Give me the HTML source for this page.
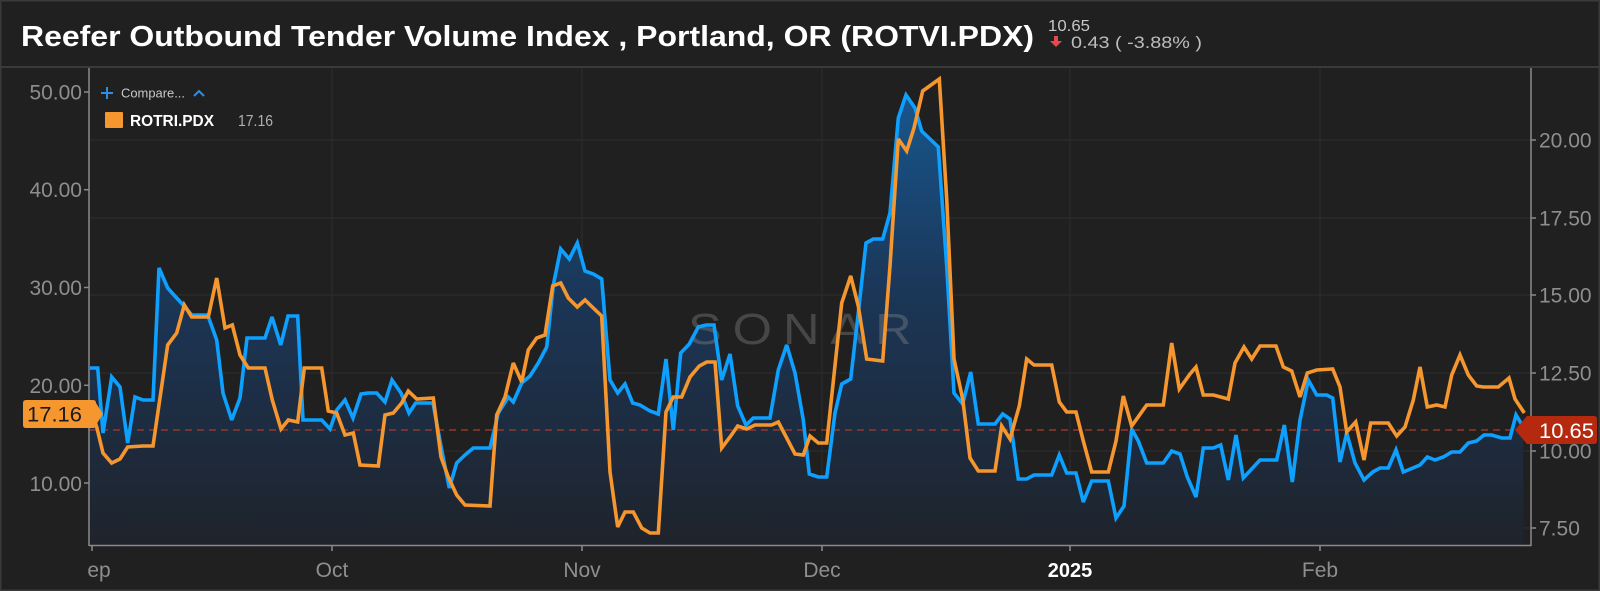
<!DOCTYPE html>
<html><head><meta charset="utf-8"><style>
html,body{margin:0;padding:0;background:#202020;}
svg{display:block;}
text{font-family:"Liberation Sans",sans-serif;}
</style></head><body>
<svg width="1600" height="591" viewBox="0 0 1600 591" xmlns="http://www.w3.org/2000/svg">
<defs>
<linearGradient id="ag" gradientUnits="userSpaceOnUse" x1="0" y1="90" x2="0" y2="545">
<stop offset="0" stop-color="#17578f"/>
<stop offset="0.45" stop-color="#1b3657"/>
<stop offset="1" stop-color="#1f232b"/>
</linearGradient>
<clipPath id="plot"><rect x="89" y="68" width="1442" height="477"/></clipPath>
<clipPath id="xl"><rect x="88" y="550" width="1500" height="40"/></clipPath>
</defs>
<rect x="0" y="0" width="1600" height="591" fill="#202020"/>
<!-- header -->
<text x="21" y="46" font-size="29" font-weight="bold" fill="#ffffff" textLength="1013" lengthAdjust="spacingAndGlyphs">Reefer Outbound Tender Volume Index , Portland, OR (ROTVI.PDX)</text>
<text x="1048" y="31" font-size="16" fill="#c8c8c8" textLength="42" lengthAdjust="spacingAndGlyphs">10.65</text>
<rect x="1054" y="36" width="4" height="6" fill="#e5484d"/>
<polygon points="1050,41 1062,41 1056,47" fill="#e5484d"/>
<text x="1071" y="48" font-size="17" fill="#bdbdbd" textLength="131" lengthAdjust="spacingAndGlyphs">0.43 ( -3.88% )</text>
<rect x="0" y="66" width="1600" height="2" fill="#3a3a3a"/>
<!-- grid -->
<g stroke="#2e2e2e" stroke-width="1">
<line x1="89" y1="140" x2="1531" y2="140"/>
<line x1="89" y1="218" x2="1531" y2="218"/>
<line x1="89" y1="295" x2="1531" y2="295"/>
<line x1="89" y1="373" x2="1531" y2="373"/>
<line x1="89" y1="451" x2="1531" y2="451"/>
<line x1="89" y1="528" x2="1531" y2="528"/>
<line x1="332" y1="68" x2="332" y2="545"/>
<line x1="582" y1="68" x2="582" y2="545"/>
<line x1="822" y1="68" x2="822" y2="545"/>
<line x1="1070" y1="68" x2="1070" y2="545"/>
<line x1="1320" y1="68" x2="1320" y2="545"/>
</g>
<g clip-path="url(#plot)">
<polygon fill="url(#ag)" points="90,545 90,368 97.7,368 103,433 111.7,377 120,387 127.7,443 135,397 143,400 153,400 159,268 167.7,288 173,294 185,307 191.7,315 207.7,315 216.7,340 223,393 231.7,420 240,398 247,338 265,338 272,317 280.7,345 288,316 297.7,316 303,420 321.7,420 330,429 336.7,410 345,400 353,418 361,394 368,393 376.7,393 385,402 392,380 401,393 409,413 415.7,403 433,403 441.7,450 449.3,488 456.7,463 465,455 473.3,448 490,448 498.3,413 508.3,397 513.3,402 521.7,383 530,376 538.3,363 546.7,347 553.3,285 560.7,249 569.3,259 577.3,243 585,271 593.3,274 601.7,279 610,380 617.7,393 625,384 632.7,403 640,405 650,411 658.3,414 666,359 673.3,430 680.7,353 689.3,344 698.3,327 706,325 714,325 721.7,380 730,354 737.7,406 746,425 753.3,418 770,418 778.3,370 786.7,345 795,373 803.3,420 809.3,474 818.3,477 826.7,477 835,413 841.7,384 850.7,379 858.3,313 866,243 873.3,239 882.7,239 890,213 898.3,118 906,95 915,108 921.7,131 930,139 938.3,147 946.7,266 954,393 962.7,404 970.7,372 978.3,424 995,424 1002.7,414 1010,419 1018.3,479 1026.7,479 1034,475 1051.7,475 1059.3,455 1066.7,473 1076,473 1083.3,502 1091.7,481 1108.3,481 1116,518 1124,506 1131.7,429 1138.3,441 1146.7,463 1163.3,463 1171.7,451 1180,454 1187.3,477 1196,497 1203.3,448 1213.3,448 1220.7,445 1228.3,480 1236,435 1243.3,478 1260,460 1276.7,460 1284.3,425 1292.3,482 1300,420 1308.3,380 1316.7,395 1326.7,395 1332.7,398 1340,462 1346.7,433 1355,463 1364,480 1372.7,472 1380,468 1388.3,468 1396,450 1403.3,472 1420,465 1427.3,457 1435,460 1443.3,457 1451.7,452 1460,452 1468.3,443 1476.7,441 1484,435 1491.7,435 1501.7,438 1510,438 1516,415 1523.3,427 1523.3,545"/>
<text transform="translate(688,344) scale(1.15,1)" font-size="44" fill="#8a8a8a" fill-opacity="0.38" letter-spacing="9.5">SONAR</text>
<line x1="89" y1="430" x2="1515" y2="430" stroke="#b23a26" stroke-width="1.2" stroke-dasharray="7 5"/>
<polyline fill="none" stroke="#0ea0ff" stroke-width="3.6" stroke-linejoin="miter" stroke-miterlimit="3" points="90,368 97.7,368 103,433 111.7,377 120,387 127.7,443 135,397 143,400 153,400 159,268 167.7,288 173,294 185,307 191.7,315 207.7,315 216.7,340 223,393 231.7,420 240,398 247,338 265,338 272,317 280.7,345 288,316 297.7,316 303,420 321.7,420 330,429 336.7,410 345,400 353,418 361,394 368,393 376.7,393 385,402 392,380 401,393 409,413 415.7,403 433,403 441.7,450 449.3,488 456.7,463 465,455 473.3,448 490,448 498.3,413 508.3,397 513.3,402 521.7,383 530,376 538.3,363 546.7,347 553.3,285 560.7,249 569.3,259 577.3,243 585,271 593.3,274 601.7,279 610,380 617.7,393 625,384 632.7,403 640,405 650,411 658.3,414 666,359 673.3,430 680.7,353 689.3,344 698.3,327 706,325 714,325 721.7,380 730,354 737.7,406 746,425 753.3,418 770,418 778.3,370 786.7,345 795,373 803.3,420 809.3,474 818.3,477 826.7,477 835,413 841.7,384 850.7,379 858.3,313 866,243 873.3,239 882.7,239 890,213 898.3,118 906,95 915,108 921.7,131 930,139 938.3,147 946.7,266 954,393 962.7,404 970.7,372 978.3,424 995,424 1002.7,414 1010,419 1018.3,479 1026.7,479 1034,475 1051.7,475 1059.3,455 1066.7,473 1076,473 1083.3,502 1091.7,481 1108.3,481 1116,518 1124,506 1131.7,429 1138.3,441 1146.7,463 1163.3,463 1171.7,451 1180,454 1187.3,477 1196,497 1203.3,448 1213.3,448 1220.7,445 1228.3,480 1236,435 1243.3,478 1260,460 1276.7,460 1284.3,425 1292.3,482 1300,420 1308.3,380 1316.7,395 1326.7,395 1332.7,398 1340,462 1346.7,433 1355,463 1364,480 1372.7,472 1380,468 1388.3,468 1396,450 1403.3,472 1420,465 1427.3,457 1435,460 1443.3,457 1451.7,452 1460,452 1468.3,443 1476.7,441 1484,435 1491.7,435 1501.7,438 1510,438 1516,415 1523.3,427"/>
<polyline fill="none" stroke="#f5962e" stroke-width="3.6" stroke-linejoin="miter" stroke-miterlimit="3" points="90,407 96.7,427 103,453 111.7,463 120,459 127.7,447 143,446 153,446 167.7,345 176.7,333 184.3,305 191.7,317 208.3,317 216.7,278 225,328 232.3,325 240,355 248.3,368 265,368 272.3,400 281,429 288.3,420 297.7,422 304.3,368 321.7,368 328.3,411 336.7,413 345,435 353.3,433 360,465 378.3,466 385,415 393.3,413 401.7,403 408.3,391 416.7,399 433.3,398 441,457 448.3,477 456.7,495 465,505 490,506 496.7,415 505,397 513.3,363 521.7,382 528.3,350 536.7,338 545,335 552.7,286 560.7,283 568.3,298 577.3,307 585,300 593.3,308 601.7,316 610,472 617.7,527 625,512 633.3,512 641.7,528 650,533 658.3,533 666,412 673.3,397 681.7,397 690,377 699.3,366 706.7,362 715,362 721.7,448 730,437 737.7,426 746.7,429 755,425 771.7,425 778.3,422 786.7,438 795,454 803.3,455 810,436 818.3,443 826.7,443 841.7,303 850.7,276 858.3,306 866.7,359 882.7,361 890,266 898.3,139 906.7,151 914,128 922.7,91 939.3,79 946.7,199 954,359 962.7,399 970,458 978.3,471 995,471 1001.7,426 1010,439 1019.3,406 1026.7,359 1034,365 1051.7,365 1059.3,402 1066.7,412 1076,412 1083.3,441 1091.7,472 1108.3,472 1116,441 1123.3,396 1131.7,426 1146.7,405 1163.3,405 1171.7,343 1179.3,389 1190,374 1196,367 1203.3,395 1213.3,395 1228.3,399 1235,363 1244,347 1251.7,359 1260,346 1276,346 1283.3,367 1291.7,371 1300,397 1307.3,373 1316.7,370 1332.7,369 1340,387 1346.7,432 1355.7,422 1364,460 1370.7,423 1388.3,423 1396.7,436 1405,427 1413.3,400 1420,367 1427.3,407 1436.7,405 1445,407 1451.7,375 1460,355 1468.3,375 1476.7,386 1483.3,387 1498.3,387 1509,378 1515,399 1524.3,413"/>
</g>
<!-- axes -->
<g stroke="#8a8a8a" stroke-width="1.5">
<line x1="89" y1="68" x2="89" y2="546"/>
<line x1="1531" y1="68" x2="1531" y2="546"/>
<line x1="89" y1="545.5" x2="1531" y2="545.5"/>
<line x1="84" y1="92" x2="89" y2="92"/>
<line x1="84" y1="189.7" x2="89" y2="189.7"/>
<line x1="84" y1="287.5" x2="89" y2="287.5"/>
<line x1="84" y1="385.3" x2="89" y2="385.3"/>
<line x1="84" y1="483" x2="89" y2="483"/>
<line x1="1531" y1="140" x2="1536" y2="140"/>
<line x1="1531" y1="218" x2="1536" y2="218"/>
<line x1="1531" y1="295" x2="1536" y2="295"/>
<line x1="1531" y1="373" x2="1536" y2="373"/>
<line x1="1531" y1="451" x2="1536" y2="451"/>
<line x1="1531" y1="528" x2="1536" y2="528"/>
<line x1="92" y1="545" x2="92" y2="551"/>
<line x1="332" y1="545" x2="332" y2="551"/>
<line x1="582" y1="545" x2="582" y2="551"/>
<line x1="822" y1="545" x2="822" y2="551"/>
<line x1="1070" y1="545" x2="1070" y2="551"/>
<line x1="1320" y1="545" x2="1320" y2="551"/>
</g>
<g font-size="21" fill="#8e8e8e" text-anchor="end">
<text x="82" y="99.5">50.00</text>
<text x="82" y="197">40.00</text>
<text x="82" y="295">30.00</text>
<text x="82" y="393">20.00</text>
<text x="82" y="491">10.00</text>
</g>
<g font-size="21" fill="#8e8e8e">
<text x="1539" y="147.5">20.00</text>
<text x="1539" y="225.5">17.50</text>
<text x="1539" y="302.5">15.00</text>
<text x="1539" y="380.5">12.50</text>
<text x="1539" y="458.5">10.00</text>
<text x="1539" y="535.5">7.50</text>
</g>
<g font-size="21" fill="#8e8e8e" text-anchor="middle" clip-path="url(#xl)">
<text x="92" y="577">Sep</text>
<text x="332" y="577">Oct</text>
<text x="582" y="577">Nov</text>
<text x="822" y="577">Dec</text>
<text x="1070" y="577" fill="#ffffff" font-weight="bold" font-size="20">2025</text>
<text x="1320" y="577">Feb</text>
</g>
<!-- value labels -->
<path d="M26,400 H93 Q96,400 96,403 L103,414 L96,425 Q96,428 93,428 H26 Q23,428 23,425 V403 Q23,400 26,400 Z" fill="#f5962e"/>
<text x="27" y="421.5" font-size="21" fill="#1b1b1b" textLength="55" lengthAdjust="spacingAndGlyphs">17.16</text>
<path d="M1515,430 L1527,416 H1594 Q1597,416 1597,419 V441 Q1597,444 1594,444 H1527 Z" fill="#b5290f"/>
<text x="1539" y="438" font-size="21" fill="#ffffff" textLength="55" lengthAdjust="spacingAndGlyphs">10.65</text>
<!-- legend -->
<g stroke="#2f8de4" stroke-width="2" fill="none">
<line x1="101" y1="93" x2="113" y2="93"/>
<line x1="107" y1="87" x2="107" y2="99"/>
<polyline points="194,96 199,91 204,96"/>
</g>
<text x="121" y="97.5" font-size="13" fill="#c8c8c8" textLength="64" lengthAdjust="spacingAndGlyphs">Compare...</text>
<rect x="105" y="112" width="18" height="16" fill="#f5962e" rx="1"/>
<text x="130" y="126" font-size="15.5" font-weight="bold" fill="#ffffff" textLength="84" lengthAdjust="spacingAndGlyphs">ROTRI.PDX</text>
<text x="238" y="126" font-size="16" fill="#b0b0b0" textLength="35" lengthAdjust="spacingAndGlyphs">17.16</text>
<!-- outer border -->
<rect x="0.75" y="0.75" width="1598.5" height="589.5" fill="none" stroke="#3a3a3a" stroke-width="1.5"/>
</svg>
</body></html>
